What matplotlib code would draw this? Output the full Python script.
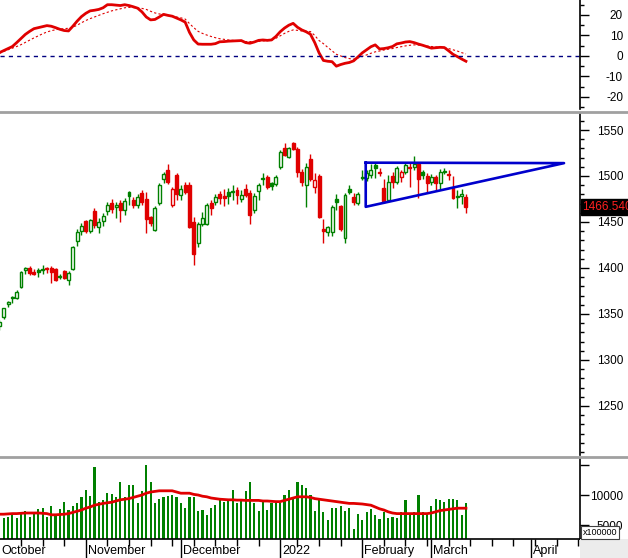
import matplotlib
matplotlib.use('Agg')
import matplotlib.pyplot as plt
import matplotlib.transforms as mtransforms
from matplotlib.patches import Rectangle
from matplotlib.lines import Line2D
import numpy as np
import pandas as pd

plt.rcParams['font.family'] = ['Liberation Sans', 'DejaVu Sans']
plt.rcParams['axes.unicode_minus'] = False

# trading days (market closed 3 Jan and for Tet 31 Jan - 4 Feb)
holidays = pd.to_datetime(['2022-01-03', '2022-01-31', '2022-02-01',
                           '2022-02-02', '2022-02-03', '2022-02-04'])
days = pd.bdate_range('2021-10-04', '2022-04-29')
days = days[~days.isin(holidays)]

opens = [1337, 1347, 1361, 1368, 1367, 1379, 1398, 1400, 1395.5, 1398,
         1398, 1400, 1400, 1399, 1390, 1397, 1387, 1399, 1429, 1440,
         1451, 1440, 1462, 1445, 1451, 1462, 1471, 1466, 1471, 1463,
         1483, 1474, 1468, 1481, 1475, 1455, 1441, 1471, 1497, 1507,
         1468, 1501, 1479, 1490, 1490, 1450, 1427, 1448, 1448, 1471,
         1472, 1480, 1478, 1483, 1482.5, 1485, 1475, 1486, 1481.5, 1463,
         1484, 1496.5, 1499, 1492, 1491, 1510, 1530, 1521, 1536, 1529,
         1504, 1490, 1519, 1488, 1500, 1442, 1439, 1439, 1475, 1467,
         1433, 1486, 1477, 1471, 1498, 1498, 1501, 1512, 1504.5, 1487,
         1474, 1500, 1493.5, 1499, 1504, 1509.5, 1510, 1513, 1504, 1500,
         1493.5, 1499, 1492, 1504.5, 1502, 1487, 1478, 1478, 1477]
highs = [1343, 1357, 1364, 1370, 1376, 1397, 1401, 1402, 1399, 1400,
         1403, 1401, 1402, 1400, 1394, 1398, 1397, 1424, 1442, 1449,
         1452, 1453, 1465, 1454, 1460, 1472, 1475, 1472, 1474, 1476,
         1484, 1477, 1480, 1485, 1483, 1457, 1467, 1492, 1504, 1513,
         1488, 1503, 1490, 1493, 1494, 1455, 1450, 1461, 1471, 1474,
         1480, 1484, 1486, 1487, 1490, 1488, 1485, 1491, 1485, 1481,
         1492, 1503, 1501, 1494, 1501, 1528, 1536, 1532, 1537, 1531,
         1508, 1514, 1524, 1503, 1502, 1453, 1446, 1468, 1480, 1469,
         1481.5, 1490, 1481, 1483, 1506, 1506, 1513, 1514, 1509, 1497,
         1501, 1504, 1511, 1507, 1515, 1515, 1522, 1514, 1506, 1503,
         1502, 1501, 1508, 1509, 1506, 1500, 1485, 1486, 1480]
lows = [1333, 1345, 1358, 1362, 1366, 1378, 1393, 1392, 1392, 1390,
        1393, 1395, 1384, 1386, 1388, 1388, 1382, 1398, 1424, 1436,
        1438, 1438, 1443, 1438, 1446, 1458, 1460, 1454, 1450, 1458,
        1468, 1465, 1465, 1469, 1438, 1446, 1440, 1468, 1492, 1491,
        1466, 1474, 1474, 1480, 1443, 1403, 1423, 1446, 1447, 1458,
        1469, 1470, 1467, 1470, 1474, 1470, 1472, 1477, 1448, 1460,
        1474, 1490, 1486, 1485, 1489, 1508, 1522, 1520, 1528, 1499,
        1489, 1466, 1495, 1481, 1454, 1427, 1435, 1435, 1463, 1440,
        1427, 1480, 1468, 1468, 1496, 1495, 1498, 1498, 1500, 1471,
        1472, 1487, 1491, 1494, 1502, 1488, 1506.5, 1476, 1497, 1482,
        1490, 1485, 1485, 1502, 1496, 1475, 1465, 1470, 1460]
closes = [1341, 1356, 1363, 1367, 1374, 1396, 1399.5, 1394.5, 1394, 1396,
          1399, 1398.5, 1396, 1387, 1391, 1389, 1395, 1423, 1439, 1446,
          1440, 1452, 1447, 1450, 1457, 1468, 1464, 1468, 1463, 1473,
          1478, 1468, 1477, 1472, 1453, 1449, 1465, 1490, 1502, 1494,
          1486, 1480, 1486, 1483, 1445, 1415, 1448, 1454, 1469, 1465,
          1477, 1476.5, 1476, 1478, 1483.5, 1479, 1479.5, 1479, 1457.5, 1478,
          1490, 1497.5, 1488, 1489, 1499, 1526, 1523, 1530, 1529.5, 1504,
          1493.5, 1510, 1497, 1496, 1455, 1440.5, 1444.5, 1466, 1472, 1442,
          1479, 1483, 1472, 1480, 1499, 1503, 1506.5, 1509, 1503.5, 1473,
          1493.5, 1493, 1509, 1504, 1512, 1509, 1513, 1497, 1501, 1492,
          1499, 1492, 1504, 1505, 1501, 1476, 1477, 1480, 1466.54]

# volume in units of 100000
volume = [6000, 6100, 6400, 6700, 6100, 7200, 7300, 6400, 6900, 7600,
          7800, 6400, 8200, 6700, 7600, 8900, 7500, 8200, 8600, 9700,
          10900, 9800, 14700, 8900, 9200, 10300, 10100, 9700, 12200, 9700,
          11700, 11700, 8600, 10700, 15000, 12200, 8600, 9400, 9700, 9800,
          10000, 9700, 8600, 7800, 9600, 9700, 7300, 7500, 6600, 7900,
          8300, 9200, 8900, 9200, 10800, 8600, 9200, 10600, 12200, 8600,
          7300, 8900, 7500, 8700, 8600, 8600, 10000, 10900, 9700, 12100,
          11700, 11100, 10000, 7400, 9300, 7200, 5800, 7800, 7900, 8100,
          7300, 7800, 4400, 6800, 5800, 7200, 7600, 6600, 6000, 7200,
          6100, 6400, 6200, 7200, 9100, 6800, 7200, 10000, 7200, 6900,
          8200, 9300, 9200, 8900, 9400, 9300, 9100, 6600, 8700]
volume_ma = [6800, 6800, 6850, 6900, 6900, 6950, 7000, 7000, 7000, 7000,
             6950, 6900, 6700, 6700, 6750, 6800, 6900, 7100, 7300, 7500,
             7800, 8000, 8300, 8450, 8600, 8700, 8800, 9000, 9200, 9300,
             9400, 9600, 9800, 10000, 10300, 10500, 10600, 10700, 10700, 10700,
             10700, 10500, 10300, 10300, 10300, 10100, 10000, 9800, 9700, 9500,
             9400, 9300, 9250, 9200, 9200, 9150, 9150, 9100, 9100, 9100,
             9100, 9000, 9000, 8950, 8900, 8900, 9100, 9300, 9500, 9700,
             9700, 9700, 9600, 9400, 9300, 9200, 9100, 9000, 8900, 8800,
             8700, 8600, 8600, 8550, 8500, 8400, 8300, 8000, 7700, 7500,
             7200, 7000, 6900, 6900, 6900, 6900, 6900, 6900, 6900, 6900,
             7000, 7200, 7400, 7500, 7600, 7700, 7800, 7800, 7800]

macd = [1.6, 2.6, 3.6, 4.6, 6.5, 8.5, 10.5, 12.0, 13.3, 13.8,
        14.3, 14.8, 14.5, 13.8, 13.0, 12.4, 12.2, 14.5, 17.0, 19.2,
        20.8, 22.0, 22.3, 22.7, 23.5, 25.0, 25.0, 24.8, 24.6, 25.0,
        24.6, 24.0, 23.3, 21.5, 19.0, 17.6, 17.8, 19.0, 20.3, 19.8,
        19.4, 18.5, 17.6, 16.5, 11.5, 7.8, 5.8, 5.7, 5.7, 5.7,
        6.0, 6.9, 7.0, 7.2, 7.3, 7.4, 7.5, 6.5, 6.2, 6.8,
        7.6, 7.8, 7.6, 7.8, 9.5, 11.8, 13.6, 15.0, 15.9, 14.0,
        12.7, 11.8, 10.6, 6.5, 1.5, -2.2, -2.6, -2.8, -5.0, -4.2,
        -3.6, -3.2, -2.4, -0.5, 1.5, 3.0, 4.5, 5.4, 3.4, 3.6,
        4.0, 4.6, 5.9, 6.3, 6.8, 7.0, 6.5, 5.8, 5.2, 4.5,
        3.8, 4.0, 4.2, 4.1, 2.5, 0.8, -0.3, -1.5, -2.6]
signal = [1.3, 2.2, 3.0, 3.8, 4.6, 5.5, 6.6, 7.7, 8.8, 9.8,
          10.8, 11.7, 12.3, 12.8, 13.1, 13.3, 13.5, 14.0, 15.0, 16.2,
          17.3, 18.2, 19.0, 19.8, 20.6, 21.3, 22.0, 22.5, 23.0, 23.5,
          23.7, 23.6, 23.4, 23.2, 22.7, 21.8, 21.0, 20.5, 20.1, 19.8,
          19.4, 19.0, 18.6, 18.0, 15.8, 13.8, 12.0, 11.0, 10.2, 9.5,
          8.9, 8.4, 8.1, 7.8, 7.6, 7.4, 7.2, 7.0, 7.0, 7.0,
          7.1, 7.3, 7.5, 7.8, 8.6, 9.8, 11.0, 12.0, 12.7, 12.5,
          12.2, 12.0, 11.9, 10.0, 7.5, 6.0, 4.2, 2.5, 0.8, 0.0,
          -0.8, -1.3, -1.6, -1.0, -0.2, 0.5, 1.3, 2.0, 2.4, 2.9,
          3.3, 3.6, 4.1, 4.5, 4.9, 5.2, 5.4, 5.3, 5.1, 4.8,
          4.6, 4.4, 4.2, 4.1, 3.6, 3.0, 2.4, 1.6, 1.0]

# triangle drawn on the price chart: (bar index, price)
tri_x = [84.8, 130.7, 84.8, 84.8]
tri_y = [1514.5, 1514, 1466.5, 1514.5]

month_names = {10: 'October', 11: 'November', 12: 'December', 1: '2022',
               2: 'February', 3: 'March', 4: 'April'}

GREEN = '#008000'
RED = '#e00000'
n = len(closes)
idx = np.arange(n)

W, H = 628, 558
fig = plt.figure(figsize=(W / 100, H / 100), dpi=100)
left, width = 0, 580 / W
ax_top = fig.add_axes([left, 1 - 109 / H, width, 109 / H])
ax_mid = fig.add_axes([left, 1 - 455 / H, width, 341 / H])
ax_vol = fig.add_axes([left, 1 - 539 / H, width, 81 / H])

xlim = (0.14, 134.4)
for ax in (ax_top, ax_mid, ax_vol):
    ax.set_xlim(*xlim)
    for s in ('left', 'top', 'bottom'):
        ax.spines[s].set_visible(False)
    ax.spines['right'].set_linewidth(1.2)
    ax.yaxis.tick_right()
    ax.tick_params(axis='y', which='major', length=6.5, width=1, pad=24.5,
                   labelsize=8.5)
    ax.tick_params(axis='y', which='minor', length=3.2, width=1)
    ax.set_xticks([])

# oscillator panel
ax_top.plot(idx, signal, color=RED, lw=0.8, ls=(0, (2, 2)))
ax_top.plot(idx, macd, color=RED, lw=2)
ax_top.axhline(0, color='#000080', lw=1, ls=(0, (3, 3)))
ax_top.set_ylim(-25.9, 27.3)
ax_top.set_yticks([-20, -10, 0, 10, 20])
ax_top.set_yticks(np.arange(-25, 30, 5), minor=True)

# candles: green if close is up from the day before, hollow if close > open
colors = [GREEN if i == 0 or closes[i] >= closes[i - 1] else RED for i in idx]
ax_mid.vlines(idx, lows, highs, colors=colors, lw=1, zorder=2)
for i in idx:
    lo, hi = min(opens[i], closes[i]), max(opens[i], closes[i])
    h = max(hi - lo, 0.7)
    face = 'white' if closes[i] > opens[i] else colors[i]
    ax_mid.add_patch(Rectangle((i - 0.34, lo), 0.68, h, facecolor=face,
                               edgecolor=colors[i], lw=1, zorder=3))
ax_mid.plot(tri_x, tri_y, color='#0000cc', lw=1.9, zorder=4)
ax_mid.set_ylim(1196.7, 1567.4)
ax_mid.set_yticks(np.arange(1250, 1600, 50))
ax_mid.set_yticks(np.arange(1200, 1570, 10), minor=True)
trans = mtransforms.blended_transform_factory(ax_mid.transAxes, ax_mid.transData)
ax_mid.text(1.004, closes[-1], '%.3f' % closes[-1], transform=trans, color='#ff2020',
            fontsize=8.5, ha='left', va='center', clip_on=False, zorder=6,
            bbox=dict(boxstyle='square,pad=0.15', facecolor='black', edgecolor='black'))

# volume
ax_vol.bar(idx, volume, width=0.5, color=GREEN, zorder=2)
ax_vol.plot(idx, volume_ma, color=RED, lw=2, zorder=3)
ax_vol.set_ylim(2667, 16167)
ax_vol.set_yticks([5000, 10000, 15000])
ax_vol.set_yticklabels(['5000', '10000', ''])
ax_vol.spines['bottom'].set_visible(True)
ax_vol.spines['bottom'].set_linewidth(1.2)

for ax in (ax_top, ax_mid, ax_vol):
    for lab in ax.get_yticklabels():
        lab.set_horizontalalignment('right')

# x axis: month starts (long ticks) and weeks (short ticks)
pos = pd.Series(np.arange(len(days)), index=days)
month_first = pos.groupby([days.year, days.month]).first()
week_first = pos.groupby(days.to_period('W')).first()
ax_vol.set_xticks(month_first.values)
ax_vol.set_xticks(week_first.values, minor=True)
ax_vol.set_xticklabels([])
ax_vol.tick_params(axis='x', which='major', direction='out', length=14, width=1)
ax_vol.tick_params(axis='x', which='minor', direction='out', length=5, width=1)
ax_vol.set_xlim(*xlim)
xtrans = mtransforms.blended_transform_factory(ax_vol.transData, ax_vol.transAxes)
for (yr, mo), p in month_first.items():
    ax_vol.text(p + 0.45, -0.15, month_names.get(mo, ''), transform=xtrans,
                fontsize=9, ha='left', va='center', clip_on=False)

# panel separators and bits of the frame
for y in (111.5, 456.5):
    fig.add_artist(Line2D([0, 1], [1 - y / H, 1 - y / H], color='#a0a0a0', lw=2))
fig.add_artist(Rectangle((580 / W, 0), 48 / W, 19 / H, transform=fig.transFigure,
                         facecolor='#ececec', edgecolor='none'))
fig.text(583 / W, 1 - 532.5 / H, 'x100000', fontsize=6.5, ha='left', va='center',
         bbox=dict(boxstyle='square,pad=0.2', facecolor='white', edgecolor='#404040', lw=0.8))

fig.savefig('out.png', dpi=100)
